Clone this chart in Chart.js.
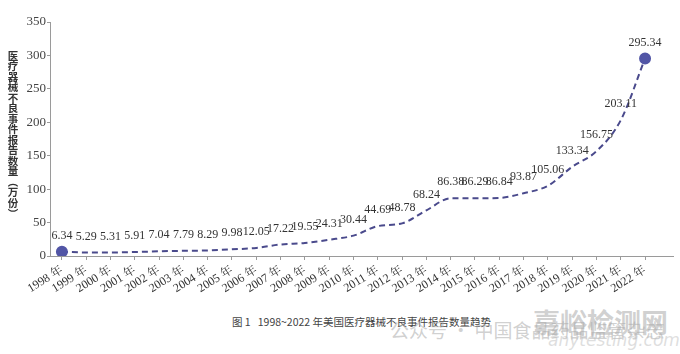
<!DOCTYPE html>
<html>
<head>
<meta charset="utf-8">
<script src="https://cdn.jsdelivr.net/npm/chart.js@4.4.1/dist/chart.umd.min.js"></script>
<style>
  html,body{margin:0;padding:0;background:#fff;}
  #wrap{position:relative;width:680px;height:354px;overflow:hidden;}
  #box{position:absolute;left:0;top:0;width:680px;height:300px;}
  .cap{position:absolute;left:232px;top:314px;font:10.5px "Noto Sans CJK SC",sans-serif;color:#444;white-space:nowrap;}
  .wm{position:absolute;white-space:nowrap;color:rgba(170,170,170,.55);}
</style>
</head>
<body>
<div id="wrap">
  <div id="box"><canvas id="c"></canvas></div>
  <div class="cap">图 1&nbsp;&nbsp;&nbsp;1998~2022 年美国医疗器械不良事件报告数量趋势</div>
  <div class="wm" style="left:533px;top:302px;font:700 27px 'Noto Sans CJK SC',sans-serif;">嘉峪检测网</div>
  <div class="wm" style="left:390px;top:316px;font:19px 'Noto Sans CJK SC',sans-serif;">公众号 · 中国食品药品监管杂志</div>
  <div class="wm" style="left:548px;top:330px;font:italic 17px 'DejaVu Sans',sans-serif;color:rgba(190,190,190,.5);">anytesting.com</div>
</div>
<script>
// 1998~2022 美国医疗器械不良事件报告数量（万份）
const years = [1998,1999,2000,2001,2002,2003,2004,2005,2006,2007,2008,2009,2010,
               2011,2012,2013,2014,2015,2016,2017,2018,2019,2020,2021,2022];
const reports = [6.34,5.29,5.31,5.91,7.04,7.79,8.29,9.98,12.05,17.22,19.55,24.31,30.44,
                 44.69,48.78,68.24,86.38,86.29,86.84,93.87,105.06,133.34,156.75,203.11,295.34];
const yTicks = [0,50,100,150,200,250,300,350];
const yTitle = "医疗器械不良事件报告数量（万份）";

const SERIF = "'Liberation Serif','Noto Serif CJK SC','Noto Sans CJK SC',serif";
const LINE = "#4a4a8c", DOT = "#5256a6", AXIS = "#9a9a9a", TXT = "#333";

// value labels above each point
const valueLabels = {
  id:"valueLabels",
  afterDatasetsDraw(chart){
    const {ctx} = chart, meta = chart.getDatasetMeta(0);
    ctx.save();
    ctx.font = "12px " + SERIF; ctx.fillStyle = TXT;
    ctx.textAlign = "center"; ctx.textBaseline = "middle";
    meta.data.forEach((p,i)=>{ ctx.fillText(reports[i].toFixed(2), p.x, p.y-16); });
    ctx.restore();
  }
};
// stacked vertical y-axis title
const vTitle = {
  id:"vTitle",
  afterDraw(chart){
    const {ctx} = chart;
    ctx.save();
    ctx.font = "bold 10.5px 'Noto Sans CJK SC',sans-serif"; ctx.fillStyle = TXT;
    ctx.textAlign = "center"; ctx.textBaseline = "middle";
    [...yTitle].forEach((ch,i)=>{
      const y = 56 + i*10.5;
      if(ch==="（"||ch==="）"){ ctx.save(); ctx.translate(13,y); ctx.rotate(Math.PI/2); ctx.fillText(ch,0,0); ctx.restore(); }
      else ctx.fillText(ch,13,y);
    });
    ctx.restore();
  }
};

new Chart(document.getElementById("c"),{
  type:"line",
  data:{datasets:[{
    data: years.map((y,i)=>({x:y,y:reports[i]})),
    borderColor:LINE, borderWidth:2, borderDash:[6,4],
    cubicInterpolationMode:"monotone",
    pointRadius: years.map((_,i)=> (i===0||i===years.length-1)?5:0),
    pointBackgroundColor:DOT, pointBorderColor:DOT, pointHoverRadius:0
  }]},
  options:{
    responsive:true, maintainAspectRatio:false, animation:false,
    layout:{padding:{top:22,right:5,left:0,bottom:0}},
    plugins:{legend:{display:false}, tooltip:{enabled:false}},
    scales:{
      x:{type:"linear", min:1997.51, max:2023.15,
        afterBuildTicks:s=>{ s.ticks = years.map(v=>({value:v})); },
        afterFit:s=>{ s.height = 44; },
        grid:{drawOnChartArea:false, drawTicks:true, tickLength:4, color:AXIS},
        border:{color:AXIS, width:1},
        ticks:{autoSkip:false, maxRotation:32, minRotation:32, padding:3, color:TXT,
          font:{family:SERIF, size:12}, callback:v=>v+" 年"}},
      y:{min:0, max:350,
        afterBuildTicks:s=>{ s.ticks = yTicks.map(v=>({value:v})); },
        afterFit:s=>{ s.width = 50; },
        grid:{drawOnChartArea:false, drawTicks:true, tickLength:3, color:AXIS},
        border:{color:AXIS, width:1},
        ticks:{padding:1, color:"#444", font:{family:SERIF, size:13}}}
    }
  },
  plugins:[valueLabels, vTitle]
});
</script>
</body>
</html>
